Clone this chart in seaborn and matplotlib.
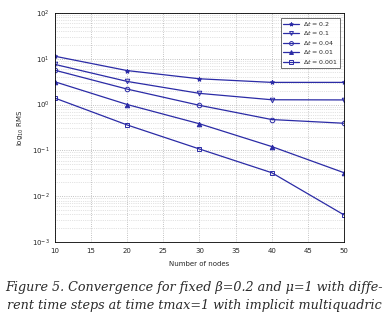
import numpy as np
import pandas as pd
import seaborn as sns
import matplotlib.pyplot as plt
from matplotlib.ticker import LogLocator, NullFormatter

nodes = [10, 20, 30, 40, 50]
dt_labels = [r'$\Delta t$ = 0.2', r'$\Delta t$ = 0.1', r'$\Delta t$ = 0.04',
             r'$\Delta t$ = 0.01', r'$\Delta t$ = 0.001']
rms_02 = [11.3, 5.5, 3.64, 3.04, 3.04]
rms_01 = [7.5, 3.19, 1.75, 1.27, 1.26]
rms_004 = [5.6, 2.17, 0.96, 0.47, 0.39]
rms_001 = [3.13, 1.0, 0.38, 0.121, 0.0325]
rms_0001 = [1.38, 0.358, 0.107, 0.0325, 0.0039]

series = [rms_02, rms_01, rms_004, rms_001, rms_0001]
rows = []
for lab, vals in zip(dt_labels, series):
    for n, v in zip(nodes, vals):
        rows.append({'nodes': n, 'rms': v, 'dt': lab})
df = pd.DataFrame(rows)

sns.set_style('white')
plt.rcParams['font.family'] = ['DejaVu Sans']

blue = '#2b2ba6'
markers = ['*', 'v', 'o', '^', 's']
filled = [True, False, False, True, False]

fig = plt.figure(figsize=(3.84, 3.21), dpi=100)
ax = fig.add_axes([0.143, 0.246, 0.753, 0.714])

sns.lineplot(data=df, x='nodes', y='rms', hue='dt', style='dt',
             markers=markers, dashes=False, palette=[blue] * 5,
             linewidth=0.9, markersize=3.3, ax=ax, legend=False)

handles = []
for line, f in zip(ax.lines, filled):
    line.set_markeredgecolor(blue)
    line.set_markeredgewidth(0.7)
    line.set_markerfacecolor(blue if f else 'none')
    handles.append(line)

ax.set_yscale('log')
ax.set_xlim(10, 50)
ax.set_ylim(1e-3, 1e2)
ax.set_xticks(range(10, 51, 5))
ax.yaxis.set_major_locator(LogLocator(base=10, numticks=10))
ax.yaxis.set_minor_locator(LogLocator(base=10, subs=np.arange(2, 10), numticks=10))
ax.yaxis.set_minor_formatter(NullFormatter())
ax.grid(True, which='major', color='#b0b0b0', linestyle=':', linewidth=0.6)
ax.grid(True, which='minor', axis='y', color='#c8c8c8', linestyle=':', linewidth=0.5)
ax.tick_params(labelsize=5, length=2, width=0.5, direction='in', which='both', pad=4)
for s in ax.spines.values():
    s.set_linewidth(0.6)
    s.set_color('black')

ax.set_xlabel('Number of nodes', fontsize=5, labelpad=5)
ax.set_ylabel(r'log$_{10}$ RMS', fontsize=5, labelpad=4)

leg = ax.legend(handles, dt_labels, loc='upper right', fontsize=4.5,
                frameon=True, fancybox=False, edgecolor='black',
                handlelength=2.6, handletextpad=0.6, borderpad=0.35,
                labelspacing=0.25, markerscale=0.85,
                bbox_to_anchor=(0.997, 0.993))
leg.get_frame().set_linewidth(0.5)

caption = ('Figure 5. Convergence for fixed \u03b2=0.2 and \u03bc=1 with diffe-\n'
           'rent time steps at time tmax=1 with implicit multiquadric')
fig.text(0.505, 0.125, caption, ha='center', va='top', fontsize=9.2,
         family=['DejaVu Serif'], style='italic', color='#2a2a2a',
         linespacing=1.55)

fig.savefig('out.png', dpi=100)
